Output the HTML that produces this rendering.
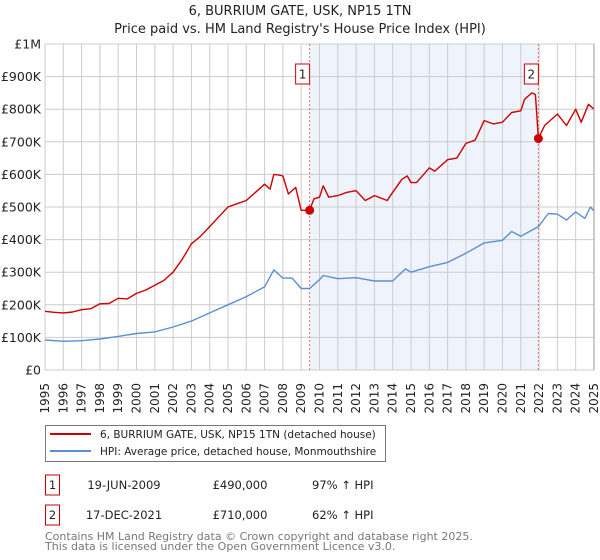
<!DOCTYPE html>
<html><head><meta charset="utf-8">
<style>
body{margin:0;background:#fff;font-family:"Liberation Sans","DejaVu Sans",sans-serif;}
#wrap{position:relative;width:600px;height:560px;overflow:hidden;}
svg text{font-family:"DejaVu Sans","Liberation Sans",sans-serif;}
</style></head>
<body>
<div id="wrap">
<svg id="chart" width="600" height="560" xmlns="http://www.w3.org/2000/svg"></svg>
</div>
<script>
const yTicks = [0,100,200,300,400,500,600,700,800,900,1000];
const yTickLabels = ["£0","£100K","£200K","£300K","£400K","£500K","£600K","£700K","£800K","£900K","£1M"];
const years = [1995,1996,1997,1998,1999,2000,2001,2002,2003,2004,2005,2006,2007,2008,2009,2010,2011,2012,2013,2014,2015,2016,2017,2018,2019,2020,2021,2022,2023,2024,2025];
const redT = [1995,1995.5,1996,1996.5,1997,1997.5,1998,1998.5,1999,1999.5,2000,2000.5,2001,2001.5,2002,2002.5,2003,2003.5,2004,2004.5,2005,2005.5,2006,2006.5,2007,2007.3,2007.5,2007.8,2008,2008.3,2008.7,2009,2009.46,2009.7,2010,2010.2,2010.5,2011,2011.5,2012,2012.5,2013,2013.7,2014,2014.5,2014.8,2015,2015.3,2016,2016.3,2017,2017.5,2018,2018.5,2019,2019.5,2020,2020.5,2021,2021.2,2021.6,2021.8,2021.96,2022.3,2023,2023.5,2024,2024.3,2024.7,2025];
const redV = [180,177,175,178,185,188,203,204,220,218,235,245,260,275,300,340,387,410,440,470,500,510,520,545,570,555,600,598,595,540,560,490,490,525,530,565,530,535,545,550,520,535,520,545,585,595,575,575,620,610,645,650,695,705,765,755,760,790,795,830,850,845,710,750,785,750,800,760,815,800];
const blueT = [1995,1996,1997,1998,1999,2000,2001,2002,2003,2004,2005,2006,2007,2007.5,2008,2008.5,2009,2009.46,2010,2010.2,2011,2012,2013,2014,2014.7,2015,2016,2017,2018,2019,2020,2020.5,2021,2021.96,2022.5,2023,2023.5,2024,2024.5,2024.8,2025];
const blueV = [92,88,90,95,103,112,117,132,150,175,200,225,255,307,282,282,250,250,277,290,280,283,273,273,310,300,317,330,358,390,398,425,410,440,480,478,460,485,465,500,488];
const saleT = [2009.46,2021.96];
const saleV = [490,710];
const saleLabels = ["1","2"];

const NS="http://www.w3.org/2000/svg";
const svg=document.getElementById('chart');
const X0=45,X1=594,Y0=370,Y1=44;
const xs=t=>X0+(t-1995)/30*(X1-X0);
const ys=v=>Y0-v/1000*(Y0-Y1);
function mk(tag,attrs,parent){const e=document.createElementNS(NS,tag);for(const k in attrs)e.setAttribute(k,attrs[k]);(parent||svg).appendChild(e);return e;}

let t=mk('text',{x:300,y:15,'text-anchor':'middle','font-size':13,fill:'#222'});t.textContent='6, BURRIUM GATE, USK, NP15 1TN';


t=mk('text',{x:300,y:33,'text-anchor':'middle','font-size':13,fill:'#222'});t.textContent="Price paid vs. HM Land Registry's House Price Index (HPI)";



let r=mk('rect',{x:xs(saleT[0]),y:Y1,width:xs(saleT[1])-xs(saleT[0]),height:Y0-Y1,fill:'#eef3fc'});



years.forEach(y=>{const l=mk('line',{x1:xs(y),x2:xs(y),y1:Y1,y2:Y0,stroke:'#cccccc','stroke-width':1});


const tx=mk('text',{x:0,y:0,'font-size':12,fill:'#222','text-anchor':'end',transform:`translate(${xs(y)+4},383) rotate(-90)`});tx.textContent=y;

});
yTicks.forEach((v,i)=>{const l=mk('line',{x1:X0,x2:X1,y1:ys(v),y2:ys(v),stroke:'#cccccc','stroke-width':1});


const tx=mk('text',{x:41,y:ys(v)+4.5,'font-size':12.5,fill:'#222','text-anchor':'end'});tx.textContent=yTickLabels[i];

});

saleT.forEach(s=>{const l=mk('line',{x1:xs(s),x2:xs(s),y1:Y1,y2:Y0,stroke:'#e87070','stroke-width':1,'stroke-dasharray':'2,2'});

});

function path(T,V,color,name){const d=T.map((tt,i)=>(i?'L':'M')+xs(tt).toFixed(1)+','+ys(V[i]).toFixed(1)).join(' ');
const p=mk('path',{d:d,fill:'none',stroke:color,'stroke-width':1.4,'stroke-linejoin':'round'});

}
path(blueT,blueV,'#5b8fd4','hpi-line');
path(redT,redV,'#cc0000','price-paid-line');

saleT.forEach((s,i)=>{const c=mk('circle',{cx:xs(s),cy:ys(saleV[i]),r:4.5,fill:'#cc0000'});


const b=mk('rect',{x:xs(s)-14,y:64,width:14,height:20,fill:'#fff',stroke:'#cc0000','stroke-width':1});


const tx=mk('text',{x:xs(s)-7,y:78.5,'font-size':12,fill:'#222','text-anchor':'middle'});tx.textContent=saleLabels[i];

});

let ax=mk('line',{x1:X1,x2:X1,y1:Y1,y2:Y0,stroke:'#999','stroke-width':1});



let lg=mk('rect',{x:45.5,y:425.5,width:340,height:36,fill:'#fff',stroke:'#777','stroke-width':1});


[['#cc0000','6, BURRIUM GATE, USK, NP15 1TN (detached house)',434,'legend-entry-price'],['#5b8fd4','HPI: Average price, detached house, Monmouthshire',451,'legend-entry-hpi']].forEach(e=>{
const l=mk('line',{x1:50,x2:91,y1:e[2],y2:e[2],stroke:e[0],'stroke-width':2});


const tx=mk('text',{x:100,y:e[2]+4,'font-size':10.5,fill:'#222'});tx.textContent=e[1];

});

const rows=[['1','19-JUN-2009','£490,000','97% ↑ HPI',485],['2','17-DEC-2021','£710,000','62% ↑ HPI',515]];
rows.forEach(rw=>{const b=mk('rect',{x:45.5,y:rw[4]-10,width:14,height:20,fill:'#fff',stroke:'#cc0000','stroke-width':1});


const cols=[[52.5,'middle',rw[0]],[124,'middle',rw[1]],[240,'middle',rw[2]],[312,'start',rw[3]]];
cols.forEach(c=>{const tx=mk('text',{x:c[0],y:rw[4]+4,'font-size':11.5,fill:'#222','text-anchor':c[1]});tx.textContent=c[2];

});});

[['Contains HM Land Registry data © Crown copyright and database right 2025.',540],['This data is licensed under the Open Government Licence v3.0.',550]].forEach(f=>{
const tx=mk('text',{x:45,y:f[1],'font-size':11,fill:'#777'});tx.textContent=f[0];

});
</script>
</body></html>
